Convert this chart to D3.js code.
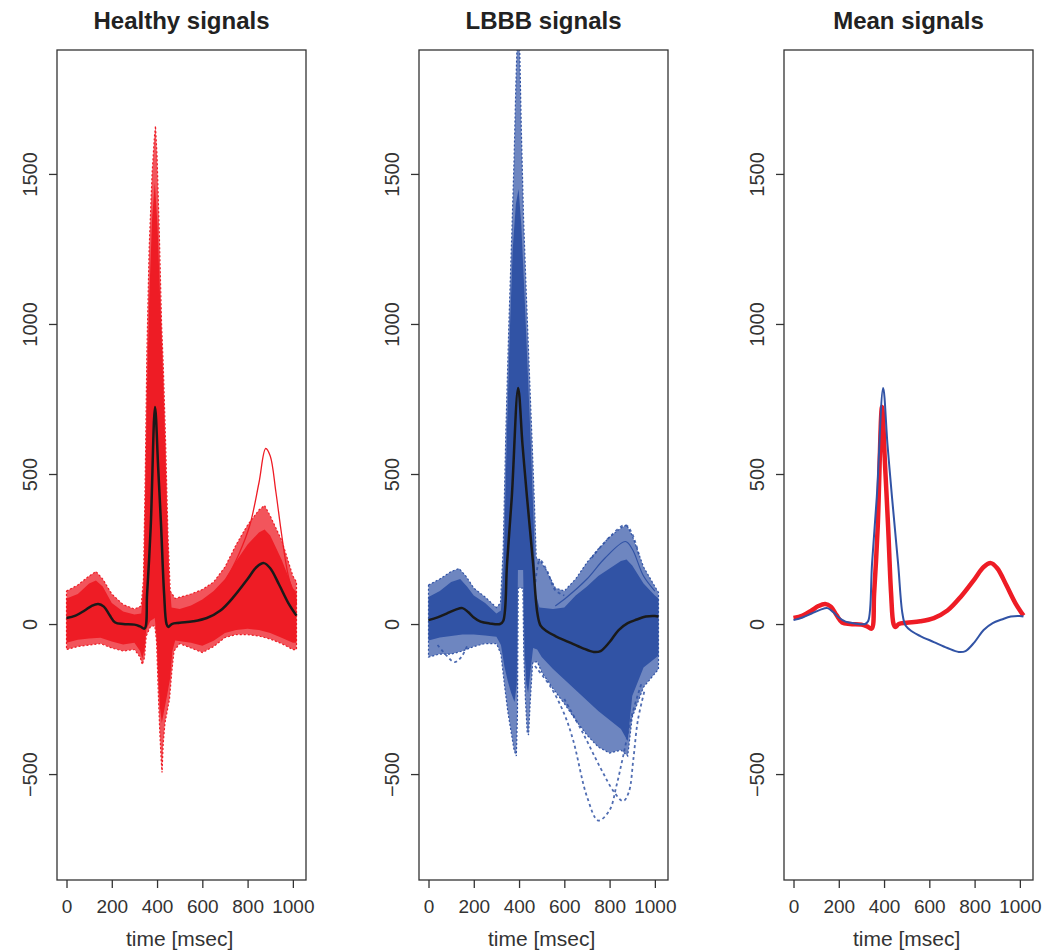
<!DOCTYPE html>
<html>
<head>
<meta charset="utf-8">
<script src="https://cdnjs.cloudflare.com/ajax/libs/d3/7.8.5/d3.min.js"></script>
<style>
  body { margin: 0; background: #fff; }
  svg { font-family: "Liberation Sans", Arial, Helvetica, sans-serif; }
</style>
</head>
<body>
<svg id="chart" width="1048" height="950"></svg>
<script>
//Panel titles and axis ticks
const panelTitles = ["Healthy signals", "LBBB signals", "Mean signals"];
const xTicks = [0, 200, 400, 600, 800, 1000];
const yTicks = [-500, 0, 500, 1000, 1500];

//Mean signals, [time in msec, value]
const healthyMean = [[0,20],[40,28],[80,45],[110,60],[140,67],[165,58],[190,30],[215,5],[250,0],[300,-2],[325,-8],[345,-15],[356,100],[372,324],[391,723],[405,520],[418,324],[431,103],[442,0],[450,-10],[465,0],[500,4],[560,9],[620,20],[680,45],[740,92],[800,150],[840,190],[872,203],[900,186],[940,130],[980,70],[1016,28]];
const lbbbMean = [[0,13],[40,22],[80,35],[120,48],[150,53],[175,40],[200,22],[230,8],[270,2],[316,0],[330,10],[347,202],[368,424],[396,787],[415,600],[435,424],[462,202],[481,36],[495,-5],[524,-25],[560,-40],[620,-60],[680,-80],[730,-93],[760,-90],[800,-60],[840,-20],[880,3],[920,15],[960,25],[1000,27],[1016,25]];

//Healthy band: outer (sparse) and inner (dense) envelopes
const healthyOuterUp = [[0,110],[50,130],[100,160],[130,175],[160,150],[200,100],[250,65],[300,50],[330,60],[340,150],[348,500],[355,900],[365,1250],[378,1500],[388,1620],[393,1660],[400,1560],[410,1300],[420,1000],[428,850],[438,600],[448,300],[458,110],[480,85],[550,100],[600,115],[650,140],[700,190],[750,265],[800,330],[850,380],[875,395],[900,360],[950,280],[1000,160],[1016,140]];
const healthyInnerUp = [[0,85],[50,100],[100,135],[130,145],[160,125],[200,70],[250,42],[300,32],[330,35],[340,120],[348,450],[356,800],[366,1100],[378,1350],[390,1470],[402,1330],[414,1080],[424,880],[434,650],[444,380],[454,150],[464,55],[500,50],[550,62],[600,82],[650,110],[700,150],[750,210],[800,265],[850,305],[875,315],[900,295],[950,215],[1000,120],[1016,105]];
const healthyOuterLo = [[0,-85],[50,-75],[100,-70],[150,-65],[200,-80],[250,-90],[300,-85],[325,-110],[335,-135],[345,-110],[352,-40],[370,-10],[390,-5],[398,-60],[405,-220],[412,-360],[418,-450],[422,-495],[427,-400],[435,-330],[445,-290],[455,-250],[465,-160],[475,-90],[500,-65],[550,-80],[600,-95],[650,-75],[700,-45],[750,-35],[800,-35],[850,-40],[900,-50],[950,-65],[1000,-85],[1016,-85]];
const healthyInnerLo = [[0,-62],[50,-52],[100,-48],[150,-46],[200,-58],[250,-68],[300,-62],[325,-90],[335,-115],[345,-85],[352,-20],[370,10],[390,20],[398,-45],[405,-170],[413,-280],[421,-330],[431,-290],[445,-235],[458,-180],[468,-90],[480,-55],[550,-62],[600,-72],[650,-56],[700,-30],[750,-20],[800,-16],[850,-20],[900,-30],[950,-46],[1000,-62],[1016,-62]];
//Healthy single traces standing out of the band
const healthyHighT = [[700,140],[760,230],[810,330],[850,470],[880,585],[900,560],[925,440],[950,300],[980,160],[1016,70]];

//LBBB band
const lbbbOuterUp = [[0,130],[50,150],[100,175],[135,185],[165,160],[200,120],[250,90],[300,55],[318,70],[330,250],[342,650],[355,1000],[368,1300],[378,1550],[386,1800],[392,1950],[402,1950],[410,1650],[420,1350],[432,1100],[445,850],[458,600],[468,400],[476,220],[490,215],[520,180],[560,120],[600,110],[650,150],[700,205],[750,250],[800,290],[850,320],[875,330],[900,295],[950,190],[1000,125],[1016,105]];
const lbbbInnerUp = [[0,90],[50,110],[100,140],[140,150],[170,125],[200,95],[250,70],[300,35],[320,45],[332,200],[345,600],[358,950],[372,1250],[386,1400],[398,1450],[410,1330],[424,1100],[438,850],[452,600],[465,330],[474,100],[490,55],[550,50],[600,55],[650,95],[700,125],[750,160],[800,185],[850,210],[875,215],[900,195],[950,135],[1000,95],[1016,85]];
const lbbbOuterLo = [[0,-110],[50,-100],[100,-100],[150,-90],[200,-75],[250,-65],[300,-65],[320,-100],[335,-200],[350,-290],[365,-360],[378,-420],[388,-440],[393,-300],[396,120],[417,120],[421,-100],[428,-250],[436,-360],[442,-370],[450,-250],[460,-130],[480,-125],[500,-160],[550,-215],[600,-265],[650,-320],[700,-370],[750,-410],[800,-430],[850,-420],[880,-440],[900,-310],[950,-210],[1000,-165],[1016,-150]];
const lbbbInnerLo = [[0,-55],[50,-45],[100,-40],[150,-35],[200,-35],[250,-38],[300,-42],[320,-70],[335,-140],[350,-190],[365,-230],[380,-260],[390,-200],[395,180],[418,180],[424,-80],[432,-200],[440,-230],[450,-160],[462,-80],[480,-85],[500,-110],[550,-150],[600,-185],[650,-220],[700,-255],[750,-290],[800,-320],[850,-350],[880,-390],[900,-240],[950,-145],[1000,-115],[1016,-105]];
//LBBB single traces standing out of the band
const lbbbDeepA = [[470,-140],[540,-210],[600,-300],[640,-390],[700,-575],[750,-655],[800,-620],[830,-540],[860,-440],[900,-300],[940,-200]];
const lbbbDeepB = [[600,-250],[680,-360],[760,-480],[820,-560],[860,-590],[885,-560],[905,-450],[925,-320],[955,-220]];
const lbbbDipP = [[40,-70],[80,-105],[115,-127],[145,-110],[175,-65]];
const lbbbPostR = [[470,120],[492,213],[525,175],[560,113],[600,95]];
const lbbbUpperT = [[560,60],[612,90],[700,150],[780,220],[870,275],[900,250],[950,160],[1000,110]];
const lbbbTopT = [[720,220],[800,290],[870,330],[900,300],[930,230]];

//Colors
const red = "#ee1c25";
const blue = "#3153a5";

//Layout (in px)
const panelLefts = [57, 419, 784];
const panelWidth = 249;
const plotTop = 50;
const plotBottom = 880;

const svg = d3.select("#chart");

let xScale = d3.scaleLinear().domain([-42, 1058]).range([0, panelWidth]);
let yScale = d3.scaleLinear().domain([-853, 1913]).range([plotBottom, plotTop]);

const line = d3.line()
    .x(d => xScale(d[0]))
    .y(d => yScale(d[1]));
const smoothLine = d3.line()
    .curve(d3.curveCatmullRom)
    .x(d => xScale(d[0]))
    .y(d => yScale(d[1]));

//Polygon from an upper and a lower envelope
function band(up, lo) {
    return line(up.concat(lo.slice().reverse())) + "Z";
}

panelLefts.forEach((left, i) => {
    const g = svg.append("g").attr("transform", `translate(${left},0)`);

    g.append("clipPath").attr("id", "clip" + i)
        .append("rect")
        .attr("x", 0).attr("y", plotTop)
        .attr("width", panelWidth).attr("height", plotBottom - plotTop);

    const plot = g.append("g").attr("clip-path", `url(#clip${i})`);

    if (i === 0) {
        plot.append("path").attr("d", band(healthyOuterUp, healthyOuterLo))
            .attr("fill", red).attr("fill-opacity", 0.75)
            .attr("stroke", red).attr("stroke-width", 1.2).attr("stroke-dasharray", "2,2");
        plot.append("path").attr("d", band(healthyInnerUp, healthyInnerLo))
            .attr("fill", red);
        plot.append("path").attr("d", smoothLine(healthyHighT))
            .attr("fill", "none").attr("stroke", red).attr("stroke-width", 1.3);
        plot.append("path").attr("d", smoothLine(healthyMean))
            .attr("fill", "none").attr("stroke", "#1a1a1a").attr("stroke-width", 2.5);
    }
    if (i === 1) {
        plot.append("path").attr("d", band(lbbbOuterUp, lbbbOuterLo))
            .attr("fill", blue).attr("fill-opacity", 0.7)
            .attr("stroke", blue).attr("stroke-width", 1.2).attr("stroke-dasharray", "2,2");
        plot.append("path").attr("d", band(lbbbInnerUp, lbbbInnerLo))
            .attr("fill", blue);
        [lbbbDeepA, lbbbDeepB, lbbbDipP, lbbbPostR, lbbbTopT].forEach(trace => {
            plot.append("path").attr("d", smoothLine(trace))
                .attr("fill", "none").attr("stroke", blue)
                .attr("stroke-width", 1.8).attr("stroke-dasharray", "3,3")
                .attr("stroke-opacity", 0.85);
        });
        plot.append("path").attr("d", smoothLine(lbbbUpperT))
            .attr("fill", "none").attr("stroke", blue).attr("stroke-width", 1.2);
        plot.append("path").attr("d", smoothLine(lbbbMean))
            .attr("fill", "none").attr("stroke", "#1a1a1a").attr("stroke-width", 2.5);
    }
    if (i === 2) {
        plot.append("path").attr("d", smoothLine(healthyMean))
            .attr("fill", "none").attr("stroke", red).attr("stroke-width", 4.5);
        plot.append("path").attr("d", smoothLine(lbbbMean))
            .attr("fill", "none").attr("stroke", blue).attr("stroke-width", 2);
    }

    //Box
    g.append("rect")
        .attr("x", 0).attr("y", plotTop)
        .attr("width", panelWidth).attr("height", plotBottom - plotTop)
        .attr("fill", "none").attr("stroke", "#333").attr("stroke-width", 1.3);

    //x-axis
    const xAxis = g.append("g")
        .attr("transform", `translate(0,${plotBottom})`)
        .call(d3.axisBottom(xScale).tickValues(xTicks).tickFormat(d3.format("d")).tickSize(8).tickSizeOuter(0));
    xAxis.select(".domain").remove();
    xAxis.selectAll("line").attr("stroke", "#333").attr("stroke-width", 1.3);
    xAxis.selectAll("text").attr("font-size", 19).attr("fill", "#333")
        .attr("y", 0).attr("dy", 0)
        .attr("transform", "translate(0,33)");

    //y-axis
    const yAxis = g.append("g")
        .call(d3.axisLeft(yScale).tickValues(yTicks).tickFormat(d3.format("d")).tickSize(8).tickSizeOuter(0));
    yAxis.select(".domain").remove();
    yAxis.selectAll("line").attr("stroke", "#333").attr("stroke-width", 1.3);
    yAxis.selectAll("text").attr("font-size", 20).attr("fill", "#333")
        .attr("x", 0).attr("dy", 0)
        .attr("text-anchor", "middle")
        .attr("transform", "translate(-20,0) rotate(-90)");

    //Title and x label
    g.append("text")
        .attr("x", panelWidth / 2).attr("y", 29)
        .attr("text-anchor", "middle")
        .attr("font-size", 24).attr("font-weight", "bold").attr("fill", "#222")
        .text(panelTitles[i]);
    g.append("text")
        .attr("x", xScale(500)).attr("y", 946)
        .attr("text-anchor", "middle")
        .attr("font-size", 21).attr("fill", "#333")
        .text("time [msec]");
});
</script>
</body>
</html>
